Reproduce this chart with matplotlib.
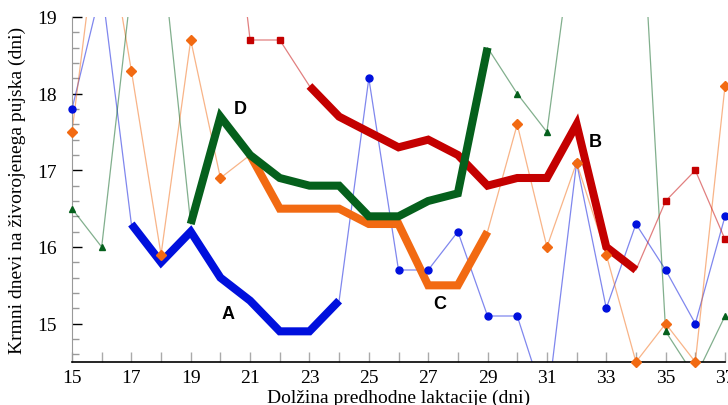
import numpy as np
import matplotlib
matplotlib.use('Agg')
import matplotlib.pyplot as plt
from matplotlib.ticker import MultipleLocator

nan = np.nan
days = list(range(15, 38))

# raw series (values outside 14.5-19 run off the plot)
blue = [17.8, 19.4, 16.3, 15.8, 16.2, 15.6, 15.3, 14.9, 14.9, 15.3, 18.2, 15.7,
        15.7, 16.2, 15.1, 15.1, 13.9, 17.1, 15.2, 16.3, 15.7, 15.0, 16.4]
orange = [17.5, 20.6, 18.3, 15.9, 18.7, 16.9, 17.2, 16.5, 16.5, 16.5, 16.3, 16.3,
          15.5, 15.5, 16.2, 17.6, 16.0, 17.1, 15.9, 14.5, 15.0, 14.5, 18.1]
green = [16.5, 16.0, 19.4, 20.0, 16.3, 17.7, 17.2, 16.9, 16.8, 16.8, 16.4, 16.4,
         16.6, 16.7, 18.6, 18.0, 17.5, 20.4, 21.0, 21.8, 14.9, 14.3, 15.1]
red = [nan, nan, nan, nan, nan, 22.0, 18.7, 18.7, 18.1, 17.7, 17.5, 17.3,
       17.4, 17.2, 16.8, 16.9, 16.9, 17.6, 16.0, 15.7, 16.6, 17.0, 16.1]

# highlighted parts: (label, series, first day, last day, label pos)
highlights = [
    ('A', 'blue', 17, 24, (20.26, 15.13)),
    ('B', 'red', 23, 34, (32.62, 17.38)),
    ('C', 'orange', 21, 29, (27.4, 15.26)),
    ('D', 'green', 19, 29, (20.66, 17.80)),
]

series = {'blue': blue, 'orange': orange, 'green': green, 'red': red}
colors = {'blue': '#0010dd', 'orange': '#f26a12', 'green': '#05601c', 'red': '#c40000'}
markers = {'blue': 'o', 'orange': 'D', 'green': '^', 'red': 's'}

fig = plt.figure(figsize=(7.28, 4.06), dpi=100)
ax = fig.add_axes([72 / 728, 43 / 406, 653 / 728, 345 / 406])
ymin, ymax = 14.5, 19

x = np.array(days)
for name in ['blue', 'orange', 'green', 'red']:
    y = np.array(series[name], dtype=float)
    ax.plot(x, y, color=colors[name], lw=0.9, alpha=0.5, zorder=2)

hl_range = {}
for lab, name, a, b, pos in highlights:
    y = np.array(series[name], dtype=float)
    m = (x >= a) & (x <= b)
    hl_range[name] = m
    ax.plot(x[m], y[m], color=colors[name], lw=5.8, solid_capstyle='butt',
            solid_joinstyle='miter', zorder=3)
    ax.text(pos[0], pos[1], lab, fontsize=13, fontweight='bold',
            family=['Liberation Sans', 'DejaVu Sans'], ha='center', va='center',
            zorder=6)

for name in ['blue', 'orange', 'green', 'red']:
    y = np.array(series[name], dtype=float)
    inside = (y >= ymin - 0.01) & (y <= ymax + 0.01) & ~hl_range[name]
    ax.plot(x[inside], y[inside], ls='none', marker=markers[name], ms=5,
            color=colors[name], clip_on=False, zorder=5)

ax.set_xlim(15, 37)
ax.set_ylim(ymin, ymax)

ax.set_xticks(days)
ax.set_xticklabels([str(d) if d % 2 == 1 else '' for d in days])
ax.yaxis.set_major_locator(MultipleLocator(1))
ax.yaxis.set_minor_locator(MultipleLocator(0.2))

serif = ['Liberation Serif', 'DejaVu Serif']
for t in ax.get_xticklabels() + ax.get_yticklabels():
    t.set_family(serif)
    t.set_fontsize(14)

ax.tick_params(axis='x', direction='in', length=7, width=1, color='#aaaaaa', pad=5)
ax.tick_params(axis='y', which='major', direction='in', length=7.5, width=1,
               color='black', pad=11)
ax.tick_params(axis='y', which='minor', direction='in', length=5, width=1,
               color='#999999')

ax.spines['top'].set_visible(False)
ax.spines['right'].set_visible(False)
ax.spines['left'].set_color('#999999')
ax.spines['bottom'].set_color('black')
ax.spines['bottom'].set_linewidth(1.2)

ax.set_xlabel('Dolžina predhodne laktacije (dni)', family=serif, fontsize=14,
              labelpad=2)
ax.set_ylabel('Krmni dnevi na živorojenega pujska (dni)', family=serif,
              fontsize=14, labelpad=8)

fig.savefig('out.png', dpi=100)
